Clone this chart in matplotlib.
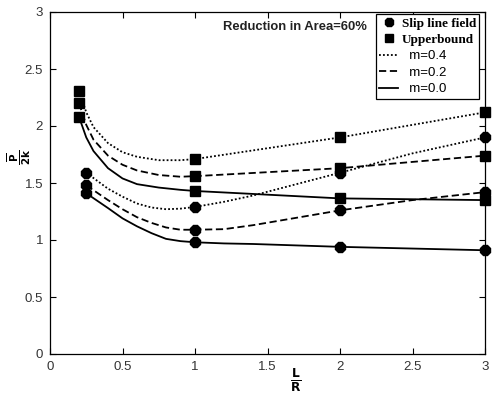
import matplotlib
matplotlib.use("Agg")
import matplotlib.pyplot as plt
from matplotlib.lines import Line2D

# ---- data ----
# Upperbound marker points
ub_x = [0.2, 1.0, 2.0, 3.0]
ub_m04 = [2.31, 1.71, 1.90, 2.12]
ub_m02 = [2.20, 1.56, 1.63, 1.74]
ub_m00 = [2.08, 1.43, 1.365, 1.35]

# Slip line field marker points
sl_x = [0.25, 1.0, 2.0, 3.0]
sl_m04 = [1.59, 1.29, 1.59, 1.90]
sl_m02 = [1.48, 1.09, 1.26, 1.42]
sl_m00 = [1.41, 0.98, 0.94, 0.91]

# Curves
ubc_x = [0.2, 0.25, 0.3, 0.4, 0.5, 0.6, 0.75, 0.9, 1.0, 2.0, 3.0]
ubc_m04 = [2.31, 2.12, 1.99, 1.85, 1.77, 1.73, 1.70, 1.70, 1.71, 1.90, 2.12]
ubc_m02 = [2.20, 2.01, 1.88, 1.74, 1.66, 1.61, 1.57, 1.555, 1.56, 1.63, 1.74]
ubc_m00 = [2.08, 1.90, 1.78, 1.63, 1.54, 1.49, 1.46, 1.44, 1.43, 1.365, 1.35]

slc_x = [0.25, 0.4, 0.5, 0.6, 0.7, 0.8, 0.9, 1.0, 1.2, 1.4, 2.0, 2.5, 3.0]
slc_m04 = [1.59, 1.45, 1.38, 1.32, 1.285, 1.27, 1.275, 1.29, 1.335, 1.39, 1.59, 1.76, 1.90]
slc_m02 = [1.48, 1.35, 1.27, 1.20, 1.15, 1.11, 1.09, 1.09, 1.095, 1.13, 1.26, 1.35, 1.42]
slc_m00 = [1.41, 1.28, 1.19, 1.12, 1.06, 1.01, 0.99, 0.98, 0.97, 0.965, 0.94, 0.925, 0.91]

x_ticks = [0, 0.5, 1, 1.5, 2, 2.5, 3]
x_tick_labels = ["0", "0.5", "1", "1.5", "2", "2.5", "3"]
y_ticks = [0, 0.5, 1, 1.5, 2, 2.5, 3]
y_tick_labels = ["0", "0.5", "1", "1.5", "2", "2.5", "3"]

legend_labels = ["Slip line field", "Upperbound", "  m=0.4", "  m=0.2", "  m=0.0"]
title_text = "Reduction in Area=60%"

# ---- figure ----
W, H = 493, 394
fig = plt.figure(figsize=(W / 100, H / 100), dpi=100)
ax = fig.add_axes([50 / W, (H - 354) / H, 435 / W, 342 / H])

lw = 1.3
styles = {"m04": (0, (1, 1.2)), "m02": (0, (4, 2)), "m00": "-"}

for cy, st in [(ubc_m04, styles["m04"]), (ubc_m02, styles["m02"]), (ubc_m00, styles["m00"])]:
    ax.plot(ubc_x, cy, color="black", lw=lw, linestyle=st)
for cy, st in [(slc_m04, styles["m04"]), (slc_m02, styles["m02"]), (slc_m00, styles["m00"])]:
    ax.plot(slc_x, cy, color="black", lw=lw, linestyle=st)

for yy in (ub_m04, ub_m02, ub_m00):
    ax.plot(ub_x, yy, linestyle="none", marker="s", ms=7, color="black", clip_on=False)
for yy in (sl_m04, sl_m02, sl_m00):
    ax.plot(sl_x, yy, linestyle="none", marker="8", ms=7.5, color="black", clip_on=False)

ax.set_xlim(0, 3)
ax.set_ylim(0, 3)
ax.set_xticks(x_ticks)
ax.set_xticklabels(x_tick_labels)
ax.set_yticks(y_ticks)
ax.set_yticklabels(y_tick_labels)
ax.tick_params(direction="in", top=True, right=True, length=4, width=0.8,
               labelsize=9.5, labelcolor="#333333", pad=5)
for lab in ax.get_xticklabels() + ax.get_yticklabels():
    lab.set_fontfamily("Liberation Sans")
for sp in ax.spines.values():
    sp.set_linewidth(0.9)

# axis labels (fractions), placed in figure pixels
fig.text(296 / W, 1 - 380 / H, r"$\frac{\mathbf{L}}{\mathbf{R}}$", fontsize=12.5,
         ha="center", va="center")
fig.text(19 / W, 1 - 157 / H, r"$\frac{\overline{\mathbf{P}}}{\mathbf{2k}}$", fontsize=10.5,
         ha="center", va="center", rotation=90)

ax.text(1.19, 2.87, title_text, fontsize=9.4, fontweight="bold",
        family="Liberation Sans", color="#222222", ha="left", va="center")

handles = [
    Line2D([], [], linestyle="none", marker="8", ms=6, color="black"),
    Line2D([], [], linestyle="none", marker="s", ms=6, color="black"),
    Line2D([], [], color="black", lw=lw, linestyle=styles["m04"]),
    Line2D([], [], color="black", lw=lw, linestyle=styles["m02"]),
    Line2D([], [], color="black", lw=lw, linestyle=styles["m00"]),
]
leg = ax.legend(handles, legend_labels, loc="upper left",
                bbox_to_anchor=((376 - 50) / 435, (354 - 14) / 342), frameon=True, fancybox=False,
                edgecolor="black", framealpha=1, handlelength=1.4,
                handletextpad=0.3, borderpad=0.25, labelspacing=0.32,
                borderaxespad=0, fontsize=9.5)
leg.get_frame().set_linewidth(0.9)
for i, t in enumerate(leg.get_texts()):
    if i < 2:
        t.set_fontfamily("Liberation Serif")
        t.set_fontweight("bold")
        t.set_fontsize(9.5)
    else:
        t.set_fontfamily("Liberation Sans")
        t.set_fontsize(9.5)

fig.savefig("out.png", dpi=100)
